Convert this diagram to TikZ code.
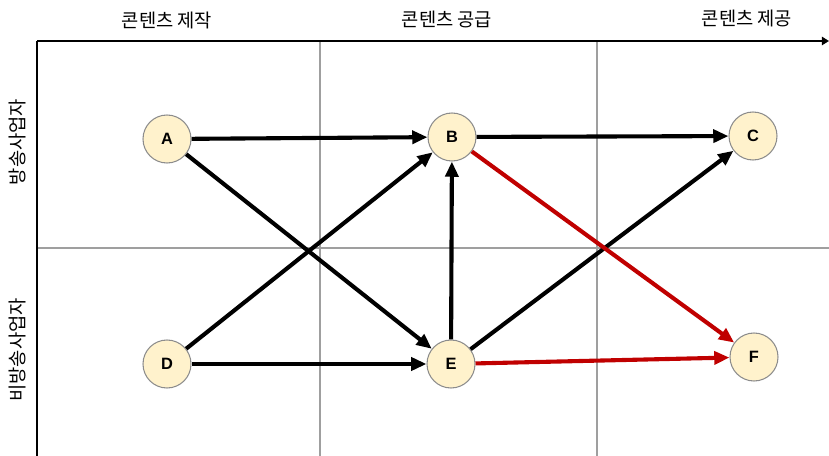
\documentclass[tikz,border=0pt]{standalone}
\usepackage{fontspec}
\setmainfont{Liberation Sans}
\newfontfamily\kr{Noto Sans CJK KR}
\usetikzlibrary{arrows.meta, positioning}
\definecolor{nodefill}{HTML}{FFF2CC}
\definecolor{nodeline}{HTML}{8C8C8C}
\definecolor{hot}{HTML}{C00000}

\begin{document}
\begin{tikzpicture}[x=0.03cm, y=-0.03cm,
    actor/.style={circle, draw=nodeline, line width=0.9pt, fill=nodefill,
        minimum size=1.44cm, inner sep=0pt, font=\fontsize{14}{16}\selectfont\bfseries},
    flow/.style={line width=3.5pt, -{Triangle[length=13pt,width=11pt]}},
    hotflow/.style={flow, draw=hot},
    grid/.style={draw=gray!75, line width=1.1pt},
    stage/.style={font=\kr\fontsize{16}{18}\selectfont, inner sep=0pt}]
    \useasboundingbox (0,0) rectangle (829,456);

    % Frame: stages and sectors
    \coordinate (o) at (37,41);
    \coordinate (xend) at (829,41);
    \coordinate (yend) at (37,460);
    \coordinate (m1top) at (320,41);
    \coordinate (m1bot) at (320,460);
    \coordinate (m2top) at (597,41);
    \coordinate (m2bot) at (597,460);
    \coordinate (hl) at (37,248);
    \coordinate (hr) at (829,248);
    \draw[grid] (m1top) -- (m1bot);
    \draw[grid] (m2top) -- (m2bot);
    \draw[grid] (hl) -- (hr);
    \draw[line width=1.7pt] (o) -- (yend);
    \draw[line width=2.5pt, -{Triangle[length=6pt,width=7pt]}] (o) -- (xend);

    \node[stage] (make) at (167,20) {콘텐츠 제작};
    \node[stage] (supply) at (447,19) {콘텐츠 공급};
    \node[stage] (serve) at (747,18) {콘텐츠 제공};
    \node[stage, rotate=90] (bcast) at (17,142) {방송사업자};
    \node[stage, rotate=90] (nonbcast) at (17,350) {비방송사업자};

    % Actors
    \node[actor] (A) at (167,139) {A};
    \node[actor] (B) at (452,137) {B};
    \node[actor] (C) at (753,136) {C};
    \node[actor] (D) at (167,364) {D};
    \node[actor] (E) at (451,364) {E};
    \node[actor] (F) at (754,357) {F};

    % Flows
    \draw[flow] (A) -- (B);
    \draw[flow] (A) -- (E);
    \draw[flow] (D) -- (B);
    \draw[flow] (D) -- (E);
    \draw[flow] (E) -- (B);
    \draw[flow] (B) -- (C);
    \draw[flow] (E) -- (C);
    \draw[hotflow] (B) -- (F);
    \draw[hotflow] (E) -- (F);
\end{tikzpicture}
\end{document}
